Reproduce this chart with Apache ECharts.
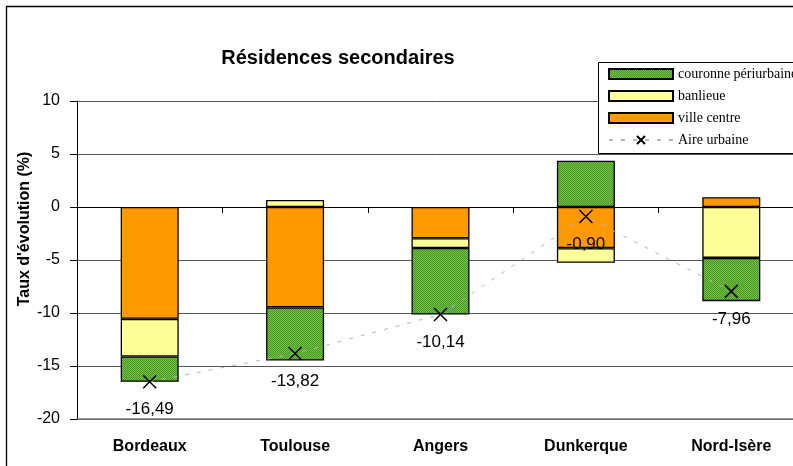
<!DOCTYPE html>
<html>
<head>
<meta charset="utf-8">
<script src="https://cdn.jsdelivr.net/npm/echarts@6/dist/echarts.min.js"></script>
<style>
  html, body { margin: 0; padding: 0; background: #fff; }
  #chart { width: 793px; height: 466px; }
</style>
</head>
<body>
<div id="chart"></div>
<script>
// Taux d'évolution des résidences secondaires par aire urbaine
const categories = ['Bordeaux', 'Toulouse', 'Angers', 'Dunkerque', 'Nord-Isère'];
const villeCentre = [-10.55, -9.47, -2.95, -3.88, 0.92];
const banlieue = [-3.55, 0.66, -0.92, -1.38, -4.80];
const couronne = [-2.39, -5.01, -6.27, 4.36, -4.08];
const aireUrbaine = [-16.49, -13.82, -10.14, -0.90, -7.96];
const yMin = -20, yMax = 10, yStep = 5;

const FONT = 'Liberation Sans, Arial, sans-serif';

// green diagonal hatch used for the "couronne" segments
function hatchPattern() {
  const c = document.createElement('canvas');
  c.width = 4; c.height = 4;
  const g = c.getContext('2d');
  g.fillStyle = '#78c240';
  g.fillRect(0, 0, 4, 4);
  g.fillStyle = '#44952b';
  for (let i = 0; i < 4; i++) {
    g.fillRect(i, i, 1, 1);
    g.fillRect((i + 2) % 4, i, 1, 1);
  }
  return { image: c, repeat: 'repeat' };
}

const barBorder = { borderColor: '#000', borderWidth: 1.3 };

const chart = echarts.init(document.getElementById('chart'), null, { renderer: 'canvas' });

chart.setOption({
  animation: false,
  backgroundColor: '#fff',
  title: {
    text: 'Résidences secondaires',
    left: 333,
    top: 43,
    textAlign: 'center',
    textStyle: { fontFamily: FONT, fontSize: 20, fontWeight: 'bold', color: '#000' }
  },
  graphic: [
    {
      type: 'rect', z: 0, silent: true,
      shape: { x: 6.5, y: 6.5, width: 800, height: 470 },
      style: { fill: 'none', stroke: '#000', lineWidth: 1.3 }
    },
    {
      type: 'rect', z: 5, silent: true,
      shape: { x: 598.5, y: 62.5, width: 220, height: 91 },
      style: { fill: '#fff', stroke: '#000', lineWidth: 1 }
    },
    {
      type: 'text', z: 5, silent: true,
      x: 25, y: 229, rotation: Math.PI / 2,
      style: {
        text: "Taux d'évolution (%)",
        fontFamily: FONT, fontSize: 16, fontWeight: 'bold', fill: '#000',
        align: 'center', verticalAlign: 'middle'
      }
    }
  ],
  legend: {
    z: 10,
    orient: 'vertical',
    left: 608,
    top: 67,
    padding: 0,
    itemWidth: 64,
    itemHeight: 10,
    itemGap: 8,
    data: [
      { name: 'couronne périurbaine', icon: 'rect' },
      { name: 'banlieue', icon: 'rect' },
      { name: 'ville centre', icon: 'rect' },
      { name: 'Aire urbaine' }
    ],
    textStyle: { fontFamily: 'Liberation Serif, Times New Roman, serif', fontSize: 14, color: '#000' }
  },
  grid: { left: 77, width: 727, top: 101, bottom: 47, containLabel: false, outerBoundsMode: 'none' },
  xAxis: [
    {
      type: 'category',
      data: categories,
      position: 'bottom',
      axisLine: { onZero: true, lineStyle: { color: '#000', width: 1 } },
      axisTick: { show: true, length: 6, lineStyle: { color: '#000' } },
      axisLabel: { show: false },
      splitLine: { show: false }
    },
    {
      type: 'category',
      data: categories,
      position: 'bottom',
      axisLine: { onZero: false, lineStyle: { color: '#777', width: 1.5 } },
      axisTick: { show: false },
      axisLabel: { margin: 20, fontFamily: FONT, fontSize: 16, fontWeight: 'bold', color: '#000' },
      splitLine: { show: false }
    }
  ],
  yAxis: {
    type: 'value',
    min: yMin,
    max: yMax,
    interval: yStep,
    axisLine: { show: true, onZero: false, lineStyle: { color: '#000', width: 1 } },
    axisTick: { show: true, length: 7, lineStyle: { color: '#000' } },
    axisLabel: { margin: 17, fontFamily: FONT, fontSize: 16, color: '#000' },
    splitLine: { show: true, lineStyle: { color: '#555', width: 1 } }
  },
  series: [
    {
      name: 'ville centre', type: 'bar', stack: 'total', xAxisIndex: 0,
      barWidth: 58,
      itemStyle: Object.assign({ color: '#ff9900' }, barBorder),
      data: villeCentre
    },
    {
      name: 'banlieue', type: 'bar', stack: 'total', xAxisIndex: 0,
      barWidth: 58,
      itemStyle: Object.assign({ color: '#ffff99' }, barBorder),
      data: banlieue
    },
    {
      name: 'couronne périurbaine', type: 'bar', stack: 'total', xAxisIndex: 0,
      barWidth: 58,
      itemStyle: Object.assign({ color: hatchPattern() }, barBorder),
      data: couronne
    },
    {
      name: 'Aire urbaine', type: 'line', xAxisIndex: 0, z: 5,
      symbol: 'path://M0,0L10,10M10,0L0,10',
      symbolSize: 13,
      itemStyle: { color: '#000', borderColor: '#000', borderWidth: 1.5 },
      lineStyle: { color: '#b5b5b5', width: 1, type: [4, 8] },
      label: {
        show: true, position: 'bottom', distance: 12,
        fontFamily: FONT, fontSize: 17, color: '#000',
        formatter: p => p.value.toFixed(2).replace('.', ',')
      },
      data: aireUrbaine
    }
  ]
});
</script>
</body>
</html>
